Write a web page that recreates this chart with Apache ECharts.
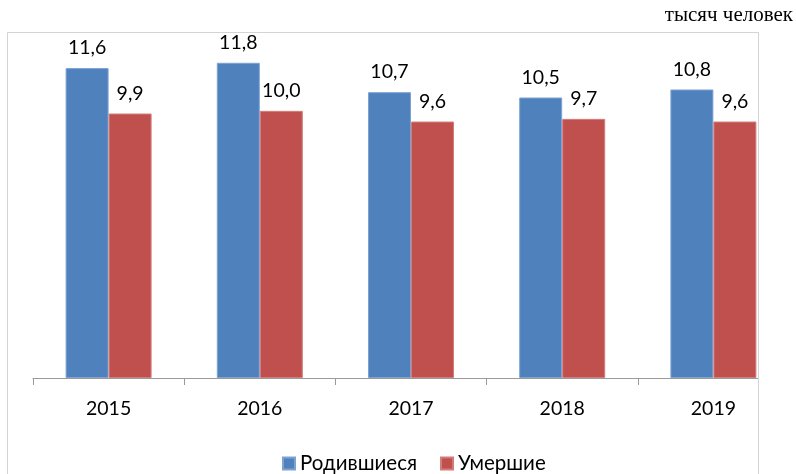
<!DOCTYPE html>
<html>
<head>
<meta charset="utf-8">
<script src="https://cdn.jsdelivr.net/npm/echarts@6/dist/echarts.min.js"></script>
<style>html,body{margin:0;padding:0;background:#fff;}#c{width:796px;height:474px;}</style>
</head>
<body>
<div id="c"></div>
<script>
const categories = ['2015', '2016', '2017', '2018', '2019'];
const born = [11.6, 11.8, 10.7, 10.5, 10.8];
const died = [9.9, 10.0, 9.6, 9.7, 9.6];
const seriesNames = ['Родившиеся', 'Умершие'];
const unitText = 'тысяч человек';

const chart = echarts.init(document.getElementById('c'), null, {renderer: 'canvas'});
const font = 'Lato, "Noto Sans", sans-serif';
const fmt = p => p.value.toFixed(1).replace('.', ',');
chart.setOption({
  animation: false,
  backgroundColor: '#fff',
  grid: {left: 33, right: 7, top: 4, bottom: 96, containLabel: false},
  xAxis: {
    type: 'category',
    data: categories,
    axisLine: {lineStyle: {color: '#9a9a9a', width: 1}},
    axisTick: {show: true, length: 7, lineStyle: {color: '#9a9a9a'}},
    axisLabel: {color: '#000', fontSize: 19.5, fontFamily: font, margin: 21}
  },
  yAxis: {
    type: 'value', min: 0, max: 14, show: false, splitLine: {show: false}
  },
  legend: {
    bottom: 0, left: 282, padding: 0, itemWidth: 12, itemHeight: 12, itemGap: 23,
    icon: 'rect',
    textStyle: {fontSize: 20.5, fontFamily: font, color: '#000'},
    data: seriesNames
  },
  series: [
    {
      name: seriesNames[0], type: 'bar', data: born, barWidth: 43, barGap: '0%',
      itemStyle: {color: '#4F81BD', borderColor: '#7ea3d3', borderWidth: 1},
      label: {show: true, position: 'top', distance: 10, formatter: fmt, fontSize: 19.5, fontFamily: font, color: '#000'}
    },
    {
      name: seriesNames[1], type: 'bar', data: died, barWidth: 43,
      itemStyle: {color: '#C0504D', borderColor: '#d47c79', borderWidth: 1},
      label: {show: true, position: 'top', distance: 10, formatter: fmt, fontSize: 19.5, fontFamily: font, color: '#000'}
    }
  ],
  graphic: [
    {type: 'rect', z: 100, shape: {x: 759, y: 33, width: 40, height: 441}, style: {fill: '#fff'}},
    {type: 'polyline', z: 101, shape: {points: [[7.5, 480], [7.5, 32.5], [758.5, 32.5], [758.5, 480]]},
      style: {stroke: '#d4d4d4', lineWidth: 1, fill: null}},
    {type: 'text', z: 102, right: 3, top: 5,
      style: {text: unitText, font: '21px "Liberation Serif", "Times New Roman", serif', fill: '#000'}}
  ]
});
</script>
</body>
</html>
